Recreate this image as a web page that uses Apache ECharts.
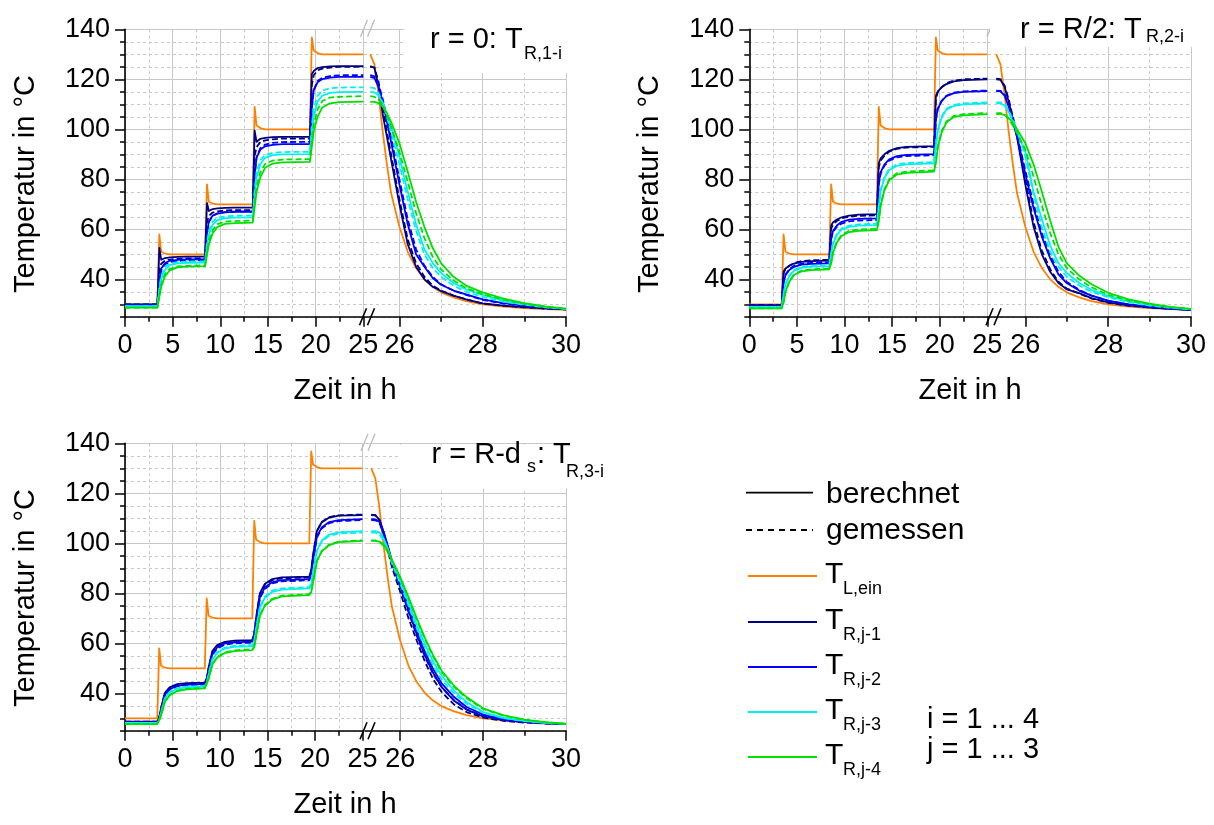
<!DOCTYPE html>
<html><head><meta charset="utf-8">
<script src="https://cdn.jsdelivr.net/npm/echarts@6/dist/echarts.min.js"></script>
<style>html,body{margin:0;padding:0;background:#fff}#c{width:1214px;height:825px}</style>
</head><body><div id="c"></div><script>
const FF = '"Liberation Sans", Arial, sans-serif';

// ---------- time bases (h) ----------
const tLeft = [0, 3.4, 3.5, 3.6, 3.8, 4.2, 4.7, 5.5, 6.5, 8.4, 8.5, 8.6, 8.8, 9.2, 9.7, 10.5, 11.5, 13.4, 13.5, 13.6, 13.8, 14.2, 14.7, 15.5, 16.5, 19.4, 19.5, 19.6, 19.8, 20.2, 20.7, 21.5, 22.5, 25];
const tRight = [25.3, 25.4, 25.5, 25.6, 25.7, 25.8, 26.0, 26.2, 26.4, 26.6, 26.8, 27.0, 27.3, 27.6, 28.0, 28.5, 29.0, 29.5, 30];

// ---------- tick labels ----------
const yTicks = [40, 60, 80, 100, 120, 140];
const xRightMajor = [26, 28, 30];
const xRightMinor = [27, 29];
const rightMin = [25.15, 25.1, 25.15];

// ---------- T_L,ein (same in all panels) ----------
const tlL = [30, 30, 30, 58, 51, 50.3, 50, 50, 50, 50, 50, 78, 71, 70.3, 70, 70, 70, 70, 70, 109, 101.5, 100.5, 100, 100, 100, 100, 100, 136.8, 131.5, 130.5, 130, 130, 130, 130];
const tlR = [130, 126, 114, 99, 86, 74.5, 61, 51, 44.5, 40, 37, 34.8, 32.8, 31.3, 30, 29.1, 28.5, 28.1, 27.8];

// ---------- Panel 1: r = 0 ----------
const p1NavyCL = [30, 30, 30, 52.6, 47.8, 48.5, 48.8, 49.0, 49.1, 49.1, 49.1, 70.5, 67.3, 68.1, 68.4, 68.6, 68.7, 68.7, 68.7, 99.5, 95, 96.2, 96.6, 96.9, 97, 97, 97, 122, 123.3, 124.5, 124.9, 125.2, 125.3, 125.3];
const p1NavyCR = [125.3, 124.5, 117, 106, 97, 88, 70, 54, 45, 40, 37, 35.3, 33.5, 32, 30.4, 29.5, 28.9, 28.4, 28];
const p1NavyML = [30, 30, 30, 43.8, 46.2, 47.5, 47.9, 48.2, 48.4, 48.4, 48.4, 62.9, 65.4, 66.7, 67.2, 67.5, 67.7, 67.7, 67.7, 89.2, 92.9, 94.9, 95.6, 96.0, 96.3, 96.3, 96.3, 117.8, 121.6, 123.6, 124.3, 124.7, 125, 125];
const p1NavyMR = [125, 124.8, 119, 109, 99, 90, 72, 56, 46.5, 41, 37.5, 35.5, 33.5, 32, 30.3, 29.4, 28.8, 28.3, 28];
const p1BlueCL = [29.7, 29.7, 29.7, 39.8, 44.3, 46.5, 47.4, 47.8, 48, 48, 48, 58.5, 63.2, 65.5, 66.3, 66.8, 67, 67, 67, 81.9, 88.7, 91.9, 93.2, 93.8, 94.1, 94.1, 94.1, 108.9, 115.6, 118.8, 120.1, 120.7, 121, 121];
const p1BlueCR = [121, 120.5, 117, 111, 103, 95, 78, 62, 50, 45, 40.5, 37.8, 35.5, 34, 32, 30.5, 29.5, 28.7, 28];
const p1BlueML = [29.7, 29.7, 29.7, 38.7, 43.7, 46.0, 46.9, 47.3, 47.5, 47.6, 47.6, 57.4, 62.9, 65.4, 66.4, 66.9, 67.1, 67.2, 67.2, 81.1, 88.9, 92.5, 93.9, 94.6, 94.9, 95, 95, 108.4, 115.8, 119.3, 120.6, 121.3, 121.6, 121.7];
const p1BlueMR = [121.7, 121.2, 118, 112, 104.5, 97, 80, 64, 52, 45.5, 41, 38, 35.5, 33.8, 31.8, 30.3, 29.3, 28.6, 28];
const p1CyanCL = [29.3, 29.3, 29.3, 35.4, 40.1, 43.9, 45.7, 46.4, 46.6, 46.7, 46.7, 53.0, 57.9, 61.9, 63.7, 64.5, 64.7, 64.8, 64.8, 73.7, 80.5, 86.1, 88.6, 89.7, 90.0, 90.1, 90.1, 98.8, 105.5, 111.0, 113.5, 114.6, 114.9, 115];
const p1CyanCR = [115, 114.8, 113.5, 110.5, 106, 101, 89, 75, 62, 52, 46.5, 42.5, 38.5, 36, 33.8, 31.6, 30.1, 29, 28.2];
const p1CyanML = [29.3, 29.3, 29.3, 36.5, 41.3, 44.9, 46.3, 46.9, 47.1, 47.2, 47.2, 54.5, 59.5, 63.1, 64.6, 65.2, 65.4, 65.5, 65.5, 75.7, 82.6, 87.7, 89.7, 90.6, 90.9, 91, 91, 101.3, 108.3, 113.4, 115.5, 116.4, 116.7, 116.8];
const p1CyanMR = [116.8, 116.5, 114.5, 110.5, 105, 99, 86, 72, 59.5, 50, 44.5, 41, 37.5, 35, 33, 31, 29.8, 28.8, 28.1];
const p1GreenCL = [28.7, 28.7, 28.7, 32.9, 37.0, 41.2, 43.6, 44.8, 45.1, 45.3, 45.3, 49.7, 54.0, 58.4, 61.0, 62.2, 62.5, 62.7, 62.7, 68.8, 74.9, 80.9, 84.6, 86.3, 86.8, 87, 87, 93.0, 99.1, 105.1, 108.7, 110.4, 110.9, 111.1];
const p1GreenCR = [111, 111, 110.5, 109, 106.5, 103, 94.5, 83, 71, 61, 52.5, 46.5, 41, 37.5, 34.8, 32.3, 30.5, 29.2, 28.3];
const p1GreenML = [28.7, 28.7, 28.7, 33.8, 38.0, 42.1, 44.2, 45.2, 45.4, 45.6, 45.6, 51.0, 55.4, 59.7, 62.1, 63.1, 63.3, 63.5, 63.5, 70.9, 77.0, 82.9, 86.1, 87.5, 87.9, 88.1, 88.1, 95.7, 102.0, 108.0, 111.3, 112.7, 113.0, 113.3];
const p1GreenMR = [113.3, 113, 112, 109.5, 105.5, 101, 91, 79, 66.5, 56.5, 49, 44, 39.5, 36.5, 34, 31.8, 30.2, 29, 28.2];

// ---------- Panel 2: r = R/2 ----------
const p2NavyCL = [29.7, 29.7, 29.7, 43.1, 44.3, 45.4, 46.3, 47.0, 47.3, 47.5, 47.5, 61.5, 62.8, 63.9, 64.8, 65.5, 65.9, 66.1, 66.1, 86.5, 88.4, 90.0, 91.4, 92.5, 93.0, 93.3, 93.3, 113.3, 115.2, 116.8, 118.1, 119.2, 119.7, 120];
const p2NavyCR = [120, 119.8, 117, 111, 104, 97, 78, 61, 50, 43, 38.5, 36, 34.5, 32.5, 30.8, 29.6, 28.8, 28.2, 27.8];
const p2NavyML = [29.7, 29.7, 29.7, 42.4, 44.2, 45.4, 46.5, 47.3, 47.6, 47.8, 47.8, 60.3, 62.0, 63.3, 64.4, 65.1, 65.4, 65.6, 65.6, 84.8, 87.5, 89.4, 91.1, 92.2, 92.7, 93.0, 93.0, 112.1, 114.8, 116.8, 118.4, 119.5, 120.0, 120.3];
const p2NavyMR = [120.3, 120.1, 117.5, 112, 105, 98.5, 80, 63, 51.5, 44, 39, 36.3, 34.3, 32.3, 30.6, 29.4, 28.7, 28.2, 27.8];
const p2BlueCL = [29.3, 29.3, 29.3, 38.7, 41.6, 43.7, 45.0, 45.9, 46.2, 46.4, 46.4, 56.3, 59.4, 61.5, 63.0, 63.9, 64.2, 64.4, 64.4, 78.5, 82.9, 86.0, 88.0, 89.3, 89.8, 90.1, 90.1, 104.0, 108.2, 111.3, 113.3, 114.5, 115.0, 115.3];
const p2BlueCR = [115.3, 115.2, 113.5, 109, 103, 97, 82, 68.5, 57, 48.5, 42, 38.5, 35.5, 33.5, 31.5, 30, 29, 28.3, 27.8];
const p2BlueML = [29.3, 29.3, 29.3, 38.9, 41.9, 44.0, 45.4, 46.3, 46.6, 46.8, 46.8, 56.1, 59.0, 61.0, 62.3, 63.2, 63.5, 63.7, 63.7, 77.9, 82.3, 85.5, 87.5, 88.8, 89.3, 89.6, 89.6, 103.8, 108.3, 111.4, 113.4, 114.7, 115.2, 115.5];
const p2BlueMR = [115.5, 115.4, 114, 109.5, 104, 98, 83.5, 70, 58.5, 49.5, 43, 39, 35.8, 33.5, 31.4, 29.9, 28.9, 28.3, 27.8];
const p2CyanCL = [29, 29, 29, 33.9, 38.0, 41.4, 43.5, 44.6, 45.1, 45.3, 45.3, 50.2, 54.3, 57.8, 59.9, 61.0, 61.5, 61.7, 61.7, 69.1, 75.3, 80.5, 83.7, 85.4, 86.0, 86.4, 86.4, 93.6, 99.6, 104.6, 107.8, 109.4, 110.0, 110.4];
const p2CyanCR = [110.4, 110.4, 109.5, 107, 103, 99, 91, 75, 64, 53.5, 46.5, 42.5, 38.5, 35.8, 33.3, 31.2, 29.8, 28.8, 28];
const p2CyanML = [29, 29, 29, 34.0, 38.1, 41.6, 43.8, 44.9, 45.4, 45.6, 45.6, 50.6, 54.9, 58.2, 60.4, 61.5, 62.0, 62.2, 62.2, 69.6, 75.8, 81.0, 84.2, 85.9, 86.5, 86.9, 86.9, 94.1, 100.0, 105.1, 108.2, 109.8, 110.4, 110.8];
const p2CyanMR = [110.8, 110.8, 110, 107.5, 104, 100, 89, 74, 61, 51, 45, 41, 37.5, 35, 32.8, 30.8, 29.5, 28.6, 28];
const p2GreenCL = [28.4, 28.4, 28.4, 30.7, 35.0, 39.0, 41.7, 43.2, 43.7, 44, 44, 46.4, 50.6, 54.7, 57.3, 58.9, 59.4, 59.7, 59.7, 63.2, 69.5, 75.6, 79.6, 81.9, 82.6, 83.1, 83.1, 86.6, 92.8, 98.7, 102.7, 105.0, 105.6, 106.1];
const p2GreenCR = [106.1, 106.1, 105.8, 104.5, 102.5, 100, 94.5, 86, 75, 63.5, 53, 46.5, 41.5, 38, 34.6, 32, 30.3, 29, 28.2];
const p2GreenML = [28.4, 28.4, 28.4, 30.8, 35.1, 39.2, 41.9, 43.5, 44.0, 44.3, 44.3, 46.7, 51.0, 55.1, 57.8, 59.4, 59.9, 60.2, 60.2, 63.7, 70.0, 76.1, 80.1, 82.4, 83.1, 83.6, 83.6, 87.0, 93.2, 99.2, 103.1, 105.4, 106.1, 106.5];
const p2GreenMR = [106.5, 106.5, 106, 104, 101.5, 98.5, 92, 81, 69.5, 58.5, 50, 44.5, 40, 36.8, 33.8, 31.5, 30, 28.9, 28.1];

// ---------- Panel 3: r = R - d_s ----------
const p3NavyCL = [28.7, 28.7, 28.7, 30.3, 34.2, 40.2, 42.4, 43.7, 44.1, 44.3, 44.3, 46.0, 50.3, 56.9, 59.3, 60.6, 61.1, 61.3, 61.3, 63.8, 70.2, 80.1, 83.7, 85.7, 86.4, 86.7, 86.7, 89.2, 95.3, 104.9, 108.3, 110.3, 111.1, 111.3];
const p3NavyCR = [111.3, 111.2, 109.5, 104.5, 98.5, 92.5, 83, 73, 63.5, 55, 48, 42.5, 37, 33.5, 30.8, 29.3, 28.5, 28, 27.7];
const p3NavyML = [28.7, 28.7, 28.7, 30.2, 34.1, 40.0, 42.2, 43.4, 43.8, 44.0, 44.0, 45.7, 50.0, 56.6, 59.0, 60.3, 60.8, 61.0, 61.0, 63.5, 69.9, 79.7, 83.3, 85.3, 86.0, 86.3, 86.3, 88.8, 95.1, 104.9, 108.5, 110.5, 111.2, 111.5];
const p3NavyMR = [111.5, 111.3, 109, 103.5, 97, 90.5, 80.5, 70, 61, 52.5, 45.5, 40.5, 35.5, 32.5, 30.3, 29, 28.3, 27.9, 27.7];
const p3BlueCL = [28.5, 28.5, 28.5, 29.9, 33.4, 39.3, 41.6, 43.0, 43.5, 43.7, 43.7, 45.2, 49.1, 55.8, 58.3, 59.9, 60.4, 60.7, 60.7, 63.0, 68.7, 78.5, 82.2, 84.5, 85.3, 85.7, 85.7, 87.9, 93.4, 102.7, 106.3, 108.5, 109.3, 109.7];
const p3BlueCR = [109.7, 109.6, 108.5, 104.5, 99, 93, 84, 74.5, 65, 56.5, 49.5, 44, 38.5, 34.5, 31.5, 29.6, 28.7, 28.1, 27.7];
const p3BlueML = [28.5, 28.5, 28.5, 29.9, 33.3, 39.2, 41.4, 42.8, 43.3, 43.5, 43.5, 45.0, 48.9, 55.4, 57.9, 59.5, 60.0, 60.3, 60.3, 62.5, 68.3, 78.0, 81.7, 84.0, 84.8, 85.2, 85.2, 87.4, 92.9, 102.3, 105.9, 108.1, 108.9, 109.3];
const p3BlueMR = [109.3, 109.2, 108, 104, 98, 92, 82.5, 72.5, 63, 54.5, 47.5, 42.5, 37.2, 33.6, 31, 29.3, 28.5, 28, 27.7];
const p3CyanCL = [28.2, 28.2, 28.2, 29.2, 32.3, 37.8, 40.2, 41.8, 42.4, 42.7, 42.7, 43.8, 47.2, 53.4, 56.1, 57.9, 58.6, 58.9, 58.9, 60.5, 65.4, 74.1, 78.1, 80.6, 81.5, 82.0, 82.0, 83.6, 88.4, 97.1, 101.0, 103.5, 104.4, 104.9];
const p3CyanCR = [104.9, 104.9, 104.3, 102, 98, 93, 85, 76.5, 67.5, 59.5, 52.5, 47, 41, 36.5, 32.5, 30.2, 29, 28.2, 27.8];
const p3CyanML = [28.2, 28.2, 28.2, 29.2, 32.3, 38.0, 40.5, 42.1, 42.7, 43.0, 43.0, 44.1, 47.6, 53.8, 56.5, 58.3, 59.0, 59.3, 59.3, 60.9, 65.8, 74.6, 78.6, 81.1, 82.0, 82.5, 82.5, 84.0, 88.6, 96.9, 100.6, 103.0, 103.9, 104.3];
const p3CyanMR = [104.3, 104.3, 103.5, 101, 97, 92, 84, 75, 66, 58, 51, 45.5, 39.8, 35.8, 32.2, 30, 28.9, 28.2, 27.8];
const p3GreenCL = [27.7, 27.7, 27.7, 28.4, 31.1, 36.6, 39.1, 40.9, 41.6, 42.0, 42.0, 42.8, 45.7, 51.5, 54.2, 56.1, 56.9, 57.3, 57.3, 58.4, 62.6, 70.9, 74.9, 77.5, 78.8, 79.3, 79.3, 80.4, 84.5, 92.8, 96.7, 99.3, 100.5, 101.0];
const p3GreenCR = [101, 101, 100.7, 99.5, 97, 93.5, 86.5, 78.5, 70, 62, 55, 49, 43, 38.5, 34, 31.2, 29.5, 28.5, 27.8];
const p3GreenML = [27.7, 27.7, 27.7, 28.4, 31.2, 36.7, 39.3, 41.0, 41.8, 42.2, 42.2, 43.0, 45.9, 51.7, 54.5, 56.4, 57.2, 57.6, 57.6, 58.7, 62.9, 71.2, 75.2, 77.8, 79.1, 79.6, 79.6, 80.7, 84.8, 93.0, 96.9, 99.5, 100.7, 101.2];
const p3GreenMR = [101.2, 101.2, 100.5, 99, 96.5, 93, 86, 78, 69.5, 61.5, 54.5, 48.5, 42.5, 38, 33.7, 31, 29.4, 28.4, 27.8];

// ---------- styling ----------
const C = { tl: '#ff8000', navy: '#000080', blue: '#0000ff', cyan: '#00f0f0', green: '#00e000' };
const GRID_C = '#c8c8c8';

const panels = [
  { grids: [{ left: 125, top: 29.3, width: 238.3 }, { left: 364, top: 29.3, width: 202 }], rMin: rightMin[0],
    sets: [
      ['tl', false, tlL, tlR],
      ['navy', false, p1NavyCL, p1NavyCR], ['navy', true, p1NavyML, p1NavyMR],
      ['blue', false, p1BlueCL, p1BlueCR], ['blue', true, p1BlueML, p1BlueMR],
      ['cyan', false, p1CyanCL, p1CyanCR], ['cyan', true, p1CyanML, p1CyanMR],
      ['green', false, p1GreenCL, p1GreenCR], ['green', true, p1GreenML, p1GreenMR]] },
  { grids: [{ left: 749.3, top: 29.3, width: 238 }, { left: 988, top: 29.3, width: 203 }], rMin: rightMin[1],
    sets: [
      ['tl', false, tlL, tlR],
      ['navy', false, p2NavyCL, p2NavyCR], ['navy', true, p2NavyML, p2NavyMR],
      ['blue', false, p2BlueCL, p2BlueCR], ['blue', true, p2BlueML, p2BlueMR],
      ['cyan', false, p2CyanCL, p2CyanCR], ['cyan', true, p2CyanML, p2CyanMR],
      ['green', false, p2GreenCL, p2GreenCR], ['green', true, p2GreenML, p2GreenMR]] },
  { grids: [{ left: 125, top: 443.3, width: 237.5 }, { left: 365, top: 443.3, width: 201 }], rMin: rightMin[2],
    sets: [
      ['tl', false, tlL, tlR],
      ['navy', false, p3NavyCL, p3NavyCR], ['navy', true, p3NavyML, p3NavyMR],
      ['blue', false, p3BlueCL, p3BlueCR], ['blue', true, p3BlueML, p3BlueMR],
      ['cyan', false, p3CyanCL, p3CyanCR], ['cyan', true, p3CyanML, p3CyanMR],
      ['green', false, p3GreenCL, p3GreenCR], ['green', true, p3GreenML, p3GreenMR]] }
];

const grid = [], xAxis = [], yAxis = [], series = [];
const lbl = { color: '#000', fontSize: 27, fontFamily: FF };
const axLine = { show: true, lineStyle: { color: '#000', width: 1.6 } };
const tickStyle = { color: '#000', width: 1.5 };
const solidSplit = { show: true, lineStyle: { color: GRID_C, width: 1, type: 'solid' } };
const dashSplit = { show: true, lineStyle: { color: GRID_C, width: 1, type: [3, 3] } };

panels.forEach((p) => {
  p.grids.forEach((g, side) => {
    const gi = grid.length;
    grid.push({ left: g.left, top: g.top, width: g.width, height: 287.5, containLabel: false });
    const isLeft = side === 0;
    if (isLeft) {
      xAxis.push({ type: 'value', gridIndex: gi, position: 'bottom', min: 0, max: 25, interval: 5,
        axisLine: axLine, axisTick: { show: true, length: 10, lineStyle: tickStyle },
        axisLabel: Object.assign({ show: true, margin: 15 }, lbl), splitLine: solidSplit });
      xAxis.push({ type: 'value', gridIndex: gi, position: 'bottom', min: 0, max: 25, interval: 2.5,
        axisLine: { show: false }, axisTick: { show: true, length: 5, lineStyle: tickStyle },
        axisLabel: { show: false }, splitLine: dashSplit });
    } else {
      xAxis.push({ type: 'value', gridIndex: gi, position: 'bottom', min: p.rMin, max: 30,
        axisLine: axLine, axisTick: { show: true, length: 10, lineStyle: tickStyle, customValues: xRightMajor },
        axisLabel: Object.assign({ show: true, margin: 15, customValues: xRightMajor }, lbl), splitLine: solidSplit });
      xAxis.push({ type: 'value', gridIndex: gi, position: 'bottom', min: p.rMin, max: 30,
        axisLine: { show: false }, axisTick: { show: true, length: 5, lineStyle: tickStyle, customValues: xRightMinor },
        axisLabel: { show: false }, splitLine: dashSplit });
    }
    yAxis.push({ type: 'value', gridIndex: gi, position: 'left', min: 25, max: 140,
      axisLine: isLeft ? axLine : { show: false },
      axisTick: { show: isLeft, length: 10, lineStyle: tickStyle, customValues: yTicks },
      axisLabel: Object.assign({ show: isLeft, margin: 15, customValues: yTicks }, lbl),
      splitLine: solidSplit });
    yAxis.push({ type: 'value', gridIndex: gi, position: 'left', min: 25, max: 140, interval: 5,
      axisLine: { show: false },
      axisTick: { show: isLeft, length: 5, lineStyle: tickStyle },
      axisLabel: { show: false }, splitLine: dashSplit });

    const tArr = isLeft ? tLeft : tRight;
    p.sets.forEach(([col, dashed, L, R]) => {
      const vals = isLeft ? L : R;
      series.push({
        type: 'line', xAxisIndex: 2 * gi, yAxisIndex: 2 * gi, showSymbol: false, symbol: 'none',
        silent: true, clip: true, smooth: false,
        lineStyle: { color: C[col], width: 1.8, type: dashed ? [6, 3] : 'solid', join: 'round' },
        data: tArr.map((t, i) => [t, vals[i]])
      });
    });
  });
});

// ---------- decorations ----------
const G = [];
function txt(text, x, y, size, opts) {
  return Object.assign({ type: 'text', x: x, y: y, z: 20, silent: true,
    style: { text: text, fill: '#000', font: size + 'px ' + FF, align: 'left', verticalAlign: 'middle' } }, opts || {});
}
function rect(x, y, w, h) {
  return { type: 'rect', z: 10, silent: true, shape: { x: x, y: y, width: w, height: h }, style: { fill: '#fff' } };
}
function seg(x1, y1, x2, y2, color, dash, w, z) {
  return { type: 'line', z: z || 20, silent: true, shape: { x1: x1, y1: y1, x2: x2, y2: y2 },
    style: { stroke: color, lineWidth: w || 1.6, lineDash: dash || null } };
}
// title boxes
G.push(rect(404, 8, 170, 65));
G.push(rect(990, 4, 215, 43));
G.push(rect(398, 444.8, 210, 44));
// titles
G.push(txt('r = 0: T', 430, 39.9, 29));
G.push(txt('R,1-i', 524, 53.7, 18));
G.push(txt('r = R/2: T', 1020, 29.9, 29));
G.push(txt('R,2-i', 1146, 37, 18));
G.push(txt('r = R-d', 431.5, 454.9, 29));
G.push(txt('s', 527, 466.7, 18));
G.push(txt(': T', 537, 454.9, 29));
G.push(txt('R,3-i', 566, 471.7, 18));
// axis names
const yNames = [[26, 184], [650, 184], [26, 598]];
yNames.forEach(([x, y]) => G.push(txt('Temperatur in °C', x, y, 29, { rotation: Math.PI / 2, style: { text: 'Temperatur in °C', fill: '#000', font: '29px ' + FF, align: 'center', verticalAlign: 'middle' } })));
const xNames = [[345, 391], [970, 391], [345, 805]];
xNames.forEach(([x, y]) => G.push(txt('Zeit in h', x, y, 29, { style: { text: 'Zeit in h', fill: '#000', font: '29px ' + FF, align: 'center', verticalAlign: 'middle' } })));
// axis breaks
const breaks = [[359.5, 316.8, 29.3], [986, 316.8, 29.3], [360, 730.8, 443.3]];
breaks.forEach(([bx, yb, yt]) => {
  G.push(seg(bx, yb + 8.5, bx + 7, yb - 8.5, '#000'));
  G.push(seg(bx + 8, yb + 8.5, bx + 15, yb - 8.5, '#000'));
  G.push(seg(bx + 1, yt + 7.5, bx + 8, yt - 9.5, '#bbbbbb', null, 1.3, 5));
  G.push(seg(bx + 8, yt + 7.5, bx + 15, yt - 9.5, '#bbbbbb', null, 1.3, 5));
});
// legend
G.push(seg(746, 492.7, 813, 492.7, '#000', null, 1.8));
G.push(txt('berechnet', 826, 494.5, 30));
G.push(seg(746, 530, 813, 530, '#000', [6, 5], 1.8));
G.push(txt('gemessen', 826, 531, 30));
const legItems = [['tl', 'L,ein', 576], ['navy', 'R,j-1', 622], ['blue', 'R,j-2', 667], ['cyan', 'R,j-3', 712], ['green', 'R,j-4', 757]];
legItems.forEach(([col, sub, y]) => {
  G.push(seg(748, y, 817, y, C[col], null, 2));
  G.push(txt('T', 825, y - 1.5, 30));
  G.push(txt(sub, 843, y + 13.5, 18));
});
G.push(txt('i = 1 ... 4', 927, 719.8, 29));
G.push(txt('j = 1 ... 3', 927, 749.8, 29));

const chart = echarts.init(document.getElementById('c'), null, { renderer: 'canvas' });
chart.setOption({
  animation: false,
  backgroundColor: '#fff',
  grid: grid, xAxis: xAxis, yAxis: yAxis, series: series,
  graphic: { elements: G }
});
</script></body></html>
